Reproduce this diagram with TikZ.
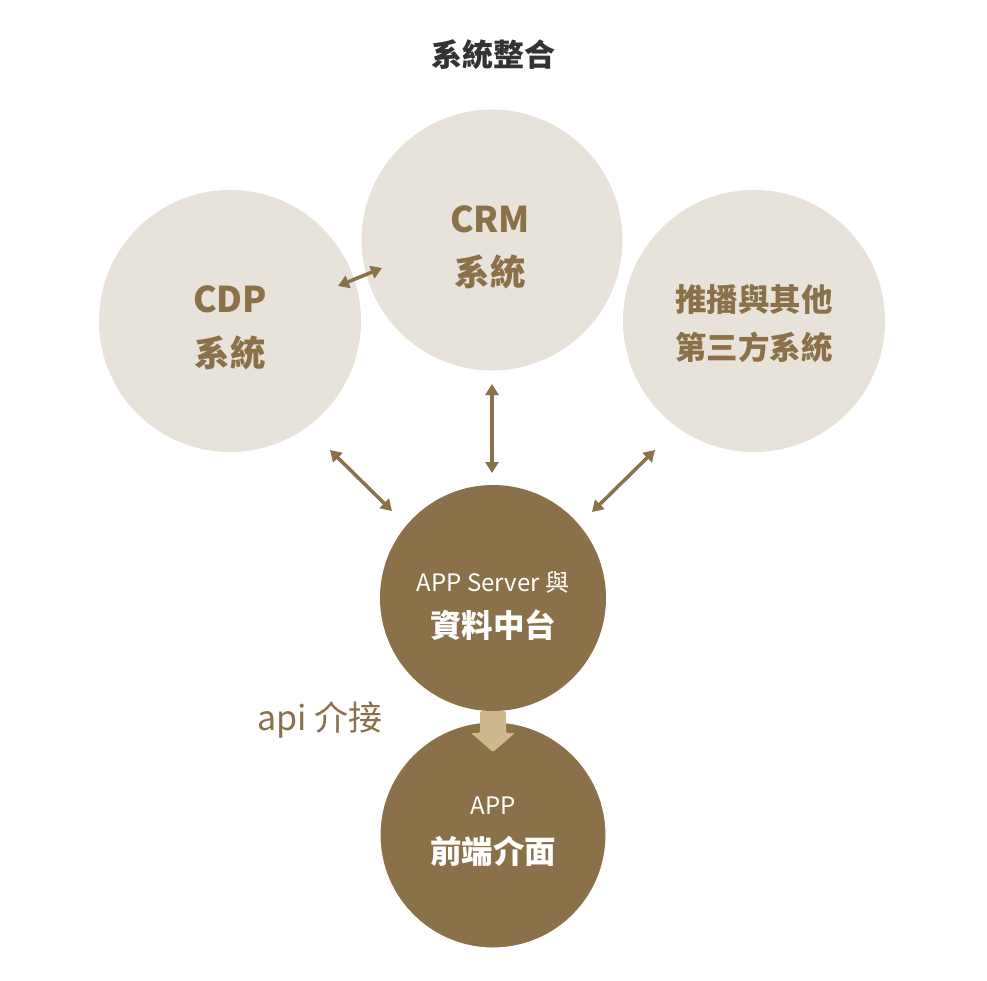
\documentclass[tikz,border=0pt]{standalone}
\usepackage{fontspec}
\setmainfont{Noto Sans CJK TC}
\usetikzlibrary{arrows.meta}
\definecolor{lightc}{HTML}{E8E3DA}
\definecolor{darkc}{HTML}{8A7149}
\definecolor{tanc}{HTML}{CDB98D}
\definecolor{titlec}{HTML}{333333}
\tikzset{
  x=1pt,y=-1pt,
  bigcirc/.style={circle,fill=lightc,minimum size=262pt,inner sep=0pt},
  darkcirc/.style={circle,fill=darkc,minimum size=226pt,inner sep=0pt},
  lbl/.style={inner sep=0pt,anchor=center},
  link/.style={darkc,line width=3.5pt,{Triangle[length=11pt,width=13pt]}-{Triangle[length=11pt,width=13pt]}},
}
\begin{document}
\begin{tikzpicture}
\useasboundingbox (0,0) rectangle (987,980);
\fill[white] (0,0) rectangle (987,980);
\node[lbl,text=titlec,font=\fontsize{31}{36}\selectfont\bfseries] (title) at (493,55) {系統整合};
% light circles
\node[bigcirc] (cdp) at (230,321) {};
\node[bigcirc] (oth) at (754,321) {};
\node[bigcirc,draw=white,line width=3pt,minimum size=264pt] (crm) at (492,240) {};
% labels light
\node[lbl,text=darkc,font=\fontsize{35.5}{40}\selectfont\bfseries] (cdpa) at (230,299) {CDP};
\node[lbl,text=darkc,font=\fontsize{35.5}{40}\selectfont\bfseries] (cdpb) at (230,353) {系統};
\node[lbl,text=darkc,font=\fontsize{35.5}{40}\selectfont\bfseries] (crma) at (490,219) {CRM};
\node[lbl,text=darkc,font=\fontsize{35.5}{40}\selectfont\bfseries] (crmb) at (490,272) {系統};
\node[lbl,text=darkc,font=\fontsize{31.5}{36}\selectfont\bfseries] (otha) at (754,300) {推播與其他};
\node[lbl,text=darkc,font=\fontsize{31.5}{36}\selectfont\bfseries] (othb) at (754,347) {第三方系統};
% arrow end points
\coordinate (a1s) at (338,286); \coordinate (a1e) at (382,268);
\coordinate (a2s) at (330,450); \coordinate (a2e) at (392,511);
\coordinate (a3s) at (492,384); \coordinate (a3e) at (492,473);
\coordinate (a4s) at (655,450); \coordinate (a4e) at (592,512);
\draw[link] (a1s) -- (a1e);
\draw[link] (a2s) -- (a2e);
\draw[link] (a3s) -- (a3e);
\draw[link] (a4s) -- (a4e);
% dark circles
\node[darkcirc] (srv) at (493,598) {};
\node[darkcirc,draw=white,line width=3pt,minimum size=228pt] (app) at (493,835) {};
\node[lbl,text=white,font=\fontsize{24}{28}\selectfont] (srva) at (493,582) {APP Server 與};
\node[lbl,text=white,font=\fontsize{31.5}{36}\selectfont\bfseries] (srvb) at (493,625) {資料中台};
\node[lbl,text=white,font=\fontsize{24}{28}\selectfont] (appa) at (493,806) {APP};
\node[lbl,text=white,font=\fontsize{31.5}{36}\selectfont\bfseries] (appb) at (493,851) {前端介面};
% thick arrow
\fill[tanc,rounded corners=1.5pt] (480,711) -- (506,711) -- (506,733) -- (515,733) -- (493,752) -- (471,733) -- (480,733) -- cycle;
\node[lbl,text=darkc,font=\fontsize{34}{40}\selectfont] (api) at (320,720) {api 介接};
\end{tikzpicture}
\end{document}
